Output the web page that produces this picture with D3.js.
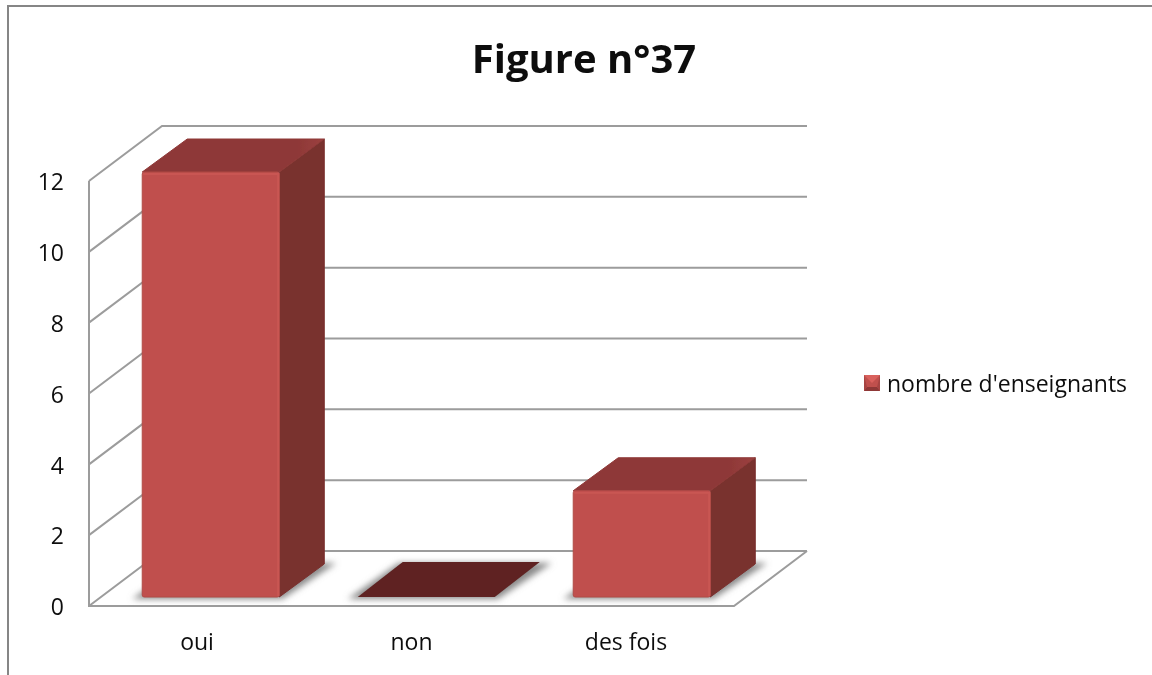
<!DOCTYPE html>
<html><head><meta charset="utf-8">
<style>html,body{margin:0;padding:0;background:#fff}svg{display:block}text{font-family:"Open Sans",sans-serif;fill:#111}</style>
<script src="https://cdn.jsdelivr.net/npm/d3@7/dist/d3.min.js"></script></head>
<body><svg id="c" width="1152" height="675"></svg>
<script>
const categories = ["oui", "non", "des fois"];
const values = [12, 0, 3];
const seriesName = "nombre d'enseignants";
const tickValues = [0, 2, 4, 6, 8, 10, 12];
const titleText = "Figure n°37";

const W = 1152, H = 675;
const svg = d3.select("#c");
const defs = svg.append("defs");
defs.append("filter").attr("id","soft").attr("x","-5%").attr("y","-5%").attr("width","110%").attr("height","110%")
  .append("feGaussianBlur").attr("stdDeviation",0.45);
defs.append("filter").attr("id","shadow").attr("x","-20%").attr("y","-40%").attr("width","140%").attr("height","180%")
  .append("feGaussianBlur").attr("stdDeviation",3.2);
defs.append("filter").attr("id","textSoft").attr("x","-5%").attr("y","-10%").attr("width","110%").attr("height","120%")
  .append("feGaussianBlur").attr("stdDeviation",0.3);
const topG = defs.append("linearGradient").attr("id","topGrad").attr("x1",0).attr("x2",1).attr("y1",0).attr("y2",0);
topG.append("stop").attr("offset","0.85").attr("stop-color","#8E3837");
topG.append("stop").attr("offset","1").attr("stop-color","#9C4140");

// plot geometry: front plane, bar plane and back wall of the oblique projection
const y = d3.scaleLinear().domain([0, 12]).range([606, 181]);
const wallX0 = 89, wallX1 = 734, backDx = 73, backDy = -55;
const barDx = 14, barDy = -9, depthDx = 45, depthDy = -33;
const x = d3.scaleBand().domain(categories).range([103, 749.5]).paddingInner(0.364).paddingOuter(0.182);

// outer frame
svg.append("path").attr("d",`M8,${H}V6H${W}`).attr("fill","none").attr("stroke","#868686").attr("stroke-width",2);

const line = d3.line();
const grid = svg.append("g").attr("filter","url(#soft)").attr("fill","none").attr("stroke","#9C9C9C").attr("stroke-width",2);
// back wall gridlines and left wall
tickValues.forEach(t => {
  grid.append("path").attr("d", line([[wallX0, y(t)],[wallX0+backDx, y(t)+backDy],[wallX1+backDx, y(t)+backDy]]));
});
grid.append("path").attr("d", line([[wallX0,y(12)],[wallX0,y(0)],[wallX1,y(0)],[wallX1+backDx,y(0)+backDy]]));

// bars
const bars = svg.append("g").attr("filter","url(#soft)");
categories.forEach((c,i) => {
  const xl = x(c), xr = xl + x.bandwidth();
  const yb = y(0) + barDy;
  // floor shadow
  bars.append("path").attr("filter","url(#shadow)").attr("fill","#8a8a8a")
    .attr("d", line([[xl-10,yb+2],[xr+3,yb+2],[xr+depthDx+12,yb+depthDy-1],[xl+depthDx-4,yb+depthDy-1]])+"Z");
});
categories.forEach((c,i) => {
  const v = values[i];
  const xl = x(c), xr = xl + x.bandwidth();
  const yb = y(0) + barDy, yt = y(v) + barDy;
  if (v === 0) {
    bars.append("path").attr("fill","#5E2423")
      .attr("d", line([[xl,yb],[xr,yb],[xr+depthDx,yb+depthDy-2],[xl+depthDx,yb+depthDy-2]])+"Z");
    return;
  }
  // side
  bars.append("path").attr("fill","#79302E").attr("stroke","#79302E").attr("stroke-width",1).attr("stroke-linejoin","round")
    .attr("d", line([[xr,yb],[xr,yt],[xr+depthDx,yt+depthDy],[xr+depthDx,yb+depthDy]])+"Z");
  // top
  bars.append("path").attr("fill","url(#topGrad)").attr("stroke","#8E3837").attr("stroke-width",1).attr("stroke-linejoin","round")
    .attr("d", line([[xl,yt],[xr,yt],[xr+depthDx,yt+depthDy],[xl+depthDx,yt+depthDy]])+"Z");
  // front
  bars.append("rect").attr("x",xl).attr("y",yt).attr("width",xr-xl).attr("height",yb-yt).attr("rx",2)
    .attr("fill","#C0504D").attr("stroke","#B04A47").attr("stroke-width",1);
  bars.append("path").attr("fill","none").attr("stroke","#C95653").attr("stroke-width",2)
    .attr("d", line([[xl+1,yt+2],[xr-1,yt+2],[xr-1,yb-1]]));
});

const labels = svg.append("g").attr("filter","url(#textSoft)");
// tick labels
labels.append("g").selectAll("text").data(tickValues).join("text")
  .attr("x",64).attr("y",d=>y(d)+1).attr("dy","0.36em").attr("text-anchor","end")
  .attr("font-size",23).text(d=>d);

// category labels, centred under the front floor edge
const labelX = d3.scalePoint().domain(categories).range([197, 626]);
labels.append("g").selectAll("text").data(categories).join("text")
  .attr("x",d=>labelX(d)).attr("y",650).attr("text-anchor","middle")
  .attr("font-size",23).text(d=>d);

// title
labels.append("text").attr("x",584).attr("y",73).attr("text-anchor","middle")
  .attr("font-size",40).attr("font-weight",700).text(titleText);

// legend
const lg = svg.append("g").attr("transform","translate(864,375)");
const s = 16;
lg.append("rect").attr("width",s).attr("height",s).attr("fill","#C0504D");
lg.append("path").attr("fill","#D9615D").attr("d",line([[0,0],[s,0],[s/2,s/2]])+"Z");
lg.append("path").attr("fill","#8E3837").attr("d",line([[0,s],[s,s],[s-3,s-4],[3,s-4]])+"Z");
lg.append("path").attr("fill","#A64442").attr("d",line([[0,0],[0,s],[3,s-4]])+"Z");
lg.append("path").attr("fill","#A64442").attr("d",line([[s,0],[s,s],[s-3,s-4]])+"Z");
labels.append("text").attr("x",887).attr("y",392).attr("font-size",23).text(seriesName);
</script></body></html>
